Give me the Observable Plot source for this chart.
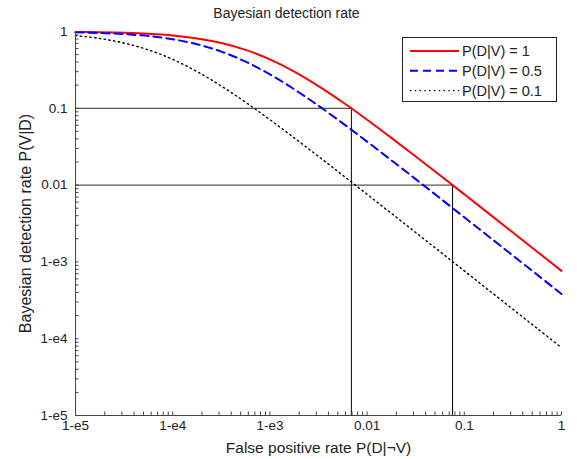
<!DOCTYPE html>
<html>
<head>
<meta charset="utf-8">
<script src="https://cdn.jsdelivr.net/npm/d3@7"></script>
<script src="https://cdn.jsdelivr.net/npm/@observablehq/plot@0.6"></script>
<style>
  body { margin: 0; background: #fff; }
  #fig { position: relative; width: 577px; height: 459px; font-family: "Liberation Sans", Arial, sans-serif; }
  #title { position: absolute; top: 5px; left: 0; width: 573px; text-align: center; font-size: 14px; color: #222; }
  #legend { position: absolute; left: 402px; top: 37px; }
</style>
</head>
<body>
<div id="fig">
  <div id="chart"></div>
  <div id="title">Bayesian detection rate</div>
  <svg id="legend" width="156" height="66"></svg>
</div>
<script>
// ---- data ----
const fpr = [1e-5, 1.778e-5, 3.162e-5, 5.623e-5, 1e-4, 1.778e-4, 3.162e-4, 5.623e-4,
  1e-3, 1.778e-3, 3.162e-3, 5.623e-3, 0.01, 0.01778, 0.03162, 0.05623,
  0.1, 0.1778, 0.3162, 0.5623, 1];
const rateT1 = [0.9871, 0.9773, 0.9603, 0.9315, 0.8844, 0.8114, 0.7075, 0.5764,
  0.4334, 0.3008, 0.1948, 0.1198, 0.07106, 0.04125, 0.02362, 0.01342,
  0.007592, 0.004284, 0.002414, 0.001359, 0.0007644];
const rateT05 = [0.9745, 0.9556, 0.9237, 0.8718, 0.7927, 0.6827, 0.5474, 0.4049,
  0.2767, 0.1770, 0.1079, 0.06369, 0.03684, 0.02106, 0.01195, 0.006757,
  0.003810, 0.002147, 0.001208, 0.0006798, 0.0003824];
const rateT01 = [0.8844, 0.8114, 0.7075, 0.5764, 0.4334, 0.3008, 0.1948, 0.1198,
  0.07106, 0.04125, 0.02362, 0.01342, 0.007592, 0.004284, 0.002414, 0.001359,
  0.0007644, 0.0004301, 0.0002419, 0.0001360, 0.0000765];
const seriesNames = ["P(D|V) = 1", "P(D|V) = 0.5", "P(D|V) = 0.1"];
const guideFpr = [0.00689, 0.0757];
const guideRate = [0.1, 0.01];
const xTicks = [1e-5, 1e-4, 1e-3, 0.01, 0.1, 1];
const xTickLabels = ["1-e5", "1-e4", "1-e3", "0.01", "0.1", "1"];
const yTicks = [1e-5, 1e-4, 1e-3, 0.01, 0.1, 1];
const yTickLabels = ["1-e5", "1-e4", "1-e3", "0.01", "0.1", "1"];
const xDomain = [1e-5, 1];
const yDomain = [1e-5, 1];

// ---- build ----
const seriesRates = [rateT1, rateT05, rateT01];
const rows = [];
seriesNames.forEach((s, k) => fpr.forEach((x, i) => rows.push({series: s, x, y: seriesRates[k][i]})));
const styles = [
  {stroke: "#ff0000", strokeWidth: 2, dash: null},
  {stroke: "#0000ff", strokeWidth: 2, dash: "8,5"},
  {stroke: "#000000", strokeWidth: 1.4, dash: "1.4,3.4"}
];
const minor = [];
for (let e = -5; e < 0; e++) for (let m = 1; m <= 9; m++) minor.push(m * Math.pow(10, e));
minor.push(1);

const axisColor = "#444";
const lineMarks = seriesNames.map((s, k) => Plot.line(rows.filter(r => r.series === s), {
  x: "x", y: "y", curve: "catmull-rom",
  stroke: styles[k].stroke, strokeWidth: styles[k].strokeWidth,
  strokeDasharray: styles[k].dash
}));

const chart = Plot.plot({
  width: 577, height: 459,
  marginLeft: 75, marginRight: 16, marginTop: 31, marginBottom: 44,
  x: {type: "log", domain: xDomain},
  y: {type: "log", domain: yDomain},
  style: {fontFamily: "'Liberation Sans', Arial, sans-serif", fontSize: "13.5px", color: "#222", background: "#fff"},
  marks: [
    Plot.ruleY(guideRate, {y: d => d, x1: () => xDomain[0], x2: (d, i) => guideFpr[i], stroke: "#555", strokeWidth: 1.2}),
    Plot.ruleX(guideFpr, {x: d => d, y1: () => yDomain[0], y2: (d, i) => guideRate[i], stroke: "#000", strokeWidth: 1}),
    ...lineMarks,
    Plot.ruleX([xDomain[0]], {stroke: axisColor}),
    Plot.ruleY([yDomain[0]], {stroke: axisColor}),
    Plot.axisX({ticks: minor, tickSize: -3.5, tickFormat: () => "", stroke: axisColor, label: null}),
    Plot.axisY({ticks: minor, tickSize: -3.5, tickFormat: () => "", stroke: axisColor, label: null}),
    Plot.axisX({ticks: xTicks, tickSize: 0, tickPadding: 5,
      tickFormat: d => xTickLabels[xTicks.indexOf(d)],
      label: null}),
    Plot.axisY({ticks: yTicks, tickSize: 0, tickPadding: 8,
      tickFormat: d => yTickLabels[yTicks.indexOf(d)],
      label: null}),
    Plot.axisX({ticks: [], tickSize: 0, fontSize: 15.5,
      label: "False positive rate P(D|¬V)", labelAnchor: "center", labelArrow: "none", labelOffset: 37}),
    Plot.axisY({ticks: [], tickSize: 0, fontSize: 16,
      label: "Bayesian detection rate P(V|D)", labelAnchor: "center", labelArrow: "none", labelOffset: 56})
  ]
});
document.getElementById("chart").appendChild(chart);

// ---- legend ----
const lg = d3.select("#legend");
lg.append("rect").attr("x", 0.5).attr("y", 0.5).attr("width", 154).attr("height", 64)
  .attr("fill", "#fff").attr("stroke", "#222");
seriesNames.forEach((s, k) => {
  const y = 14 + k * 19.8;
  lg.append("line").attr("x1", 8).attr("x2", 57).attr("y1", y).attr("y2", y)
    .attr("stroke", styles[k].stroke).attr("stroke-width", styles[k].strokeWidth)
    .attr("stroke-dasharray", styles[k].dash);
  lg.append("text").attr("x", 60).attr("y", y + 5).text(s)
    .attr("font-family", "'Liberation Sans', Arial, sans-serif").attr("font-size", "14.5px").attr("fill", "#222");
});
</script>
</body>
</html>
